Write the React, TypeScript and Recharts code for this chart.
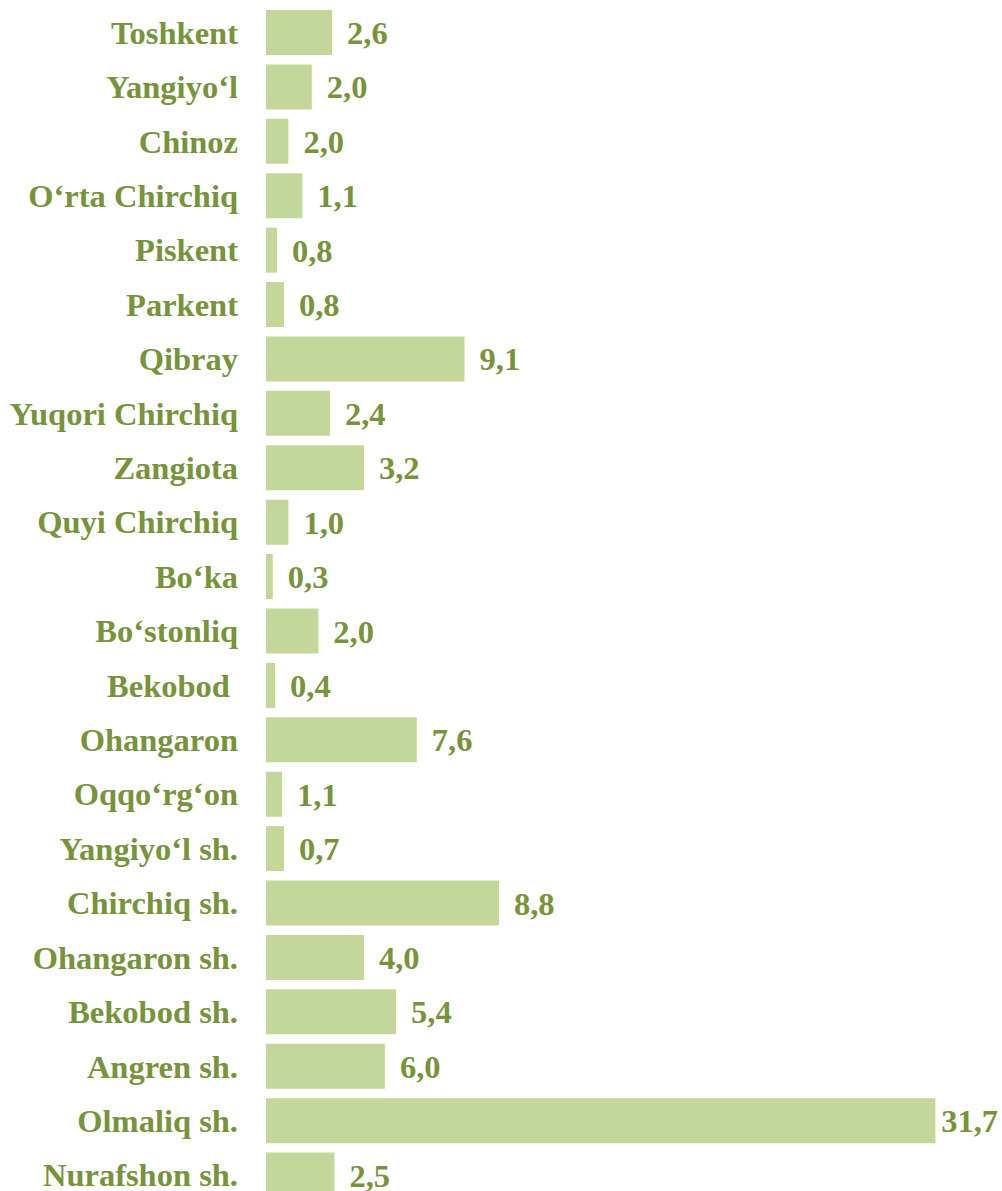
import React from "react";
import { BarChart, Bar, XAxis, YAxis, LabelList } from "recharts";

const districts = [
  "Toshkent", "Yangiyo‘l", "Chinoz", "O‘rta Chirchiq", "Piskent", "Parkent", "Qibray",
  "Yuqori Chirchiq", "Zangiota", "Quyi Chirchiq", "Bo‘ka", "Bo‘stonliq", "Bekobod ",
  "Ohangaron", "Oqqo‘rg‘on", "Yangiyo‘l sh.", "Chirchiq sh.", "Ohangaron sh.",
  "Bekobod sh.", "Angren sh.", "Olmaliq sh.", "Nurafshon sh.",
];

// bar lengths as drawn in the picture
const barValues = [
  3.13, 2.17, 1.06, 1.72, 0.52, 0.85, 9.4, 3.03, 4.64, 1.06, 0.32, 2.48, 0.43,
  7.14, 0.76, 0.85, 11.03, 4.64, 6.16, 5.63, 31.7, 3.24,
];

// printed value labels
const valueLabels = [
  "2,6", "2,0", "2,0", "1,1", "0,8", "0,8", "9,1", "2,4", "3,2", "1,0", "0,3", "2,0", "0,4",
  "7,6", "1,1", "0,7", "8,8", "4,0", "5,4", "6,0", "31,7", "2,5",
];

const data = districts.map((name, i) => ({ name, value: barValues[i], label: valueLabels[i] }));

const TEXT = "#77933C";
const BAR = "#C4D79B";
const FONT = "'Liberation Serif', 'Times New Roman', serif";
const FS = 32.5;
const CHART_W = 1002;

const Tick = (props: any) => {
  const { x, y, payload } = props;
  return (
    <text
      x={x}
      y={y}
      dy="0.355em"
      textAnchor="end"
      fill={TEXT}
      fontFamily={FONT}
      fontWeight="bold"
      fontSize={FS}
      style={{ whiteSpace: "pre" }}
    >
      {payload.value}
    </text>
  );
};

const ValueLabel = (props: any) => {
  const { x, y, width, height, value } = props;
  const s = String(value);
  const estW = s.length * FS * 0.5 - FS * 0.25;
  let lx = x + width + 15;
  let anchor: "start" | "end" = "start";
  if (lx + estW > CHART_W - 4) {
    lx = CHART_W - 4;
    anchor = "end";
  }
  return (
    <text
      x={lx}
      y={y + height / 2}
      dy="0.355em"
      textAnchor={anchor}
      fill={TEXT}
      fontFamily={FONT}
      fontWeight="bold"
      fontSize={FS}
    >
      {s}
    </text>
  );
};

export default function App() {
  return (
    <div style={{ position: "absolute", left: 0, top: 0, width: 1002, height: 1191, overflow: "hidden", background: "#fff" }}>
      <BarChart
        width={CHART_W}
        height={1210}
        data={data}
        layout="vertical"
        margin={{ top: 5, right: 18, bottom: 8, left: 0 }}
        barSize={45}
      >
        <XAxis type="number" domain={[0, 34]} hide />
        <YAxis
          type="category"
          dataKey="name"
          width={266}
          axisLine={false}
          tickLine={false}
          tickSize={0}
          tickMargin={28}
          interval={0}
          tick={<Tick />}
        />
        <Bar dataKey="value" fill={BAR} isAnimationActive={false}>
          <LabelList dataKey="label" content={<ValueLabel />} />
        </Bar>
      </BarChart>
    </div>
  );
}
